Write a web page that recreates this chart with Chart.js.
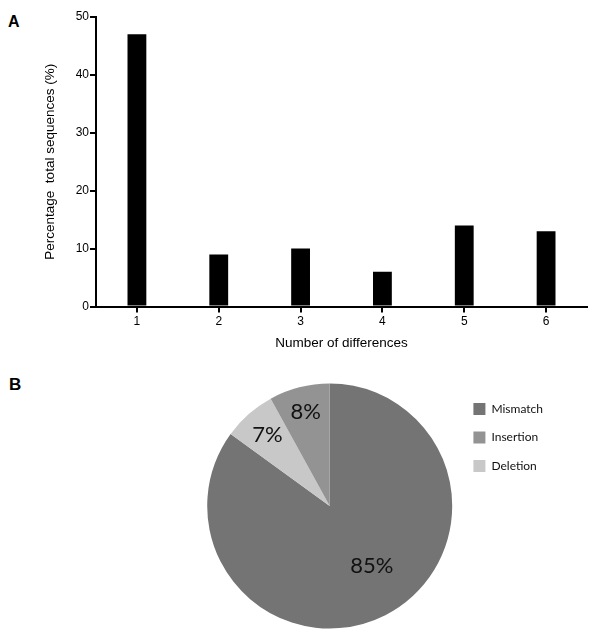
<!DOCTYPE html>
<html>
<head>
<meta charset="utf-8">
<script src="https://cdn.jsdelivr.net/npm/chart.js@4/dist/chart.umd.min.js"></script>
<style>
  html, body { margin: 0; padding: 0; background: #fff; }
  body { width: 600px; height: 641px; position: relative; overflow: hidden; }
  #barWrap { position: absolute; left: 0; top: 0; width: 600px; height: 370px; }
  #pieWrap { position: absolute; left: 0; top: 370px; width: 600px; height: 271px; }
  .panel { position: absolute; font-family: "Liberation Sans", Arial, sans-serif; font-weight: bold; line-height: 1; color: #000; }
</style>
</head>
<body>
<div class="panel" style="left:8px; top:14px; font-size:16px;">A</div>
<div class="panel" style="left:9px; top:376px; font-size:17px;">B</div>
<div id="barWrap"><canvas id="bar" width="600" height="370"></canvas></div>
<div id="pieWrap"><canvas id="pie" width="600" height="271"></canvas></div>
<script>
// ---- Data (panel A) ----
const diffCategories = ['1', '2', '3', '4', '5', '6'];
const diffPercentages = [47, 9, 10, 6, 14, 13];
const yTicks = [0, 10, 20, 30, 40, 50];
const xAxisTitle = 'Number of differences';
const yAxisTitle = 'Percentage  total sequences (%)';

// ---- Data (panel B) ----
const typeLabels = ['Mismatch', 'Deletion', 'Insertion'];
const typePercentages = [85, 7, 8];
const legendOrder = ['Mismatch', 'Insertion', 'Deletion'];
const typeColors = ['#747474', '#c8c8c8', '#939393'];

const sansFont = '"Liberation Sans", Arial, sans-serif';

new Chart(document.getElementById('bar'), {
  type: 'bar',
  data: {
    labels: diffCategories,
    datasets: [{
      data: diffPercentages,
      backgroundColor: '#000',
      borderWidth: 0,
      categoryPercentage: 1,
      barPercentage: 0.23
    }]
  },
  options: {
    responsive: false,
    animation: false,
    devicePixelRatio: 1,
    layout: { padding: { top: 17, right: 13, bottom: 13.5, left: 0 } },
    plugins: { legend: { display: false }, tooltip: { enabled: false } },
    scales: {
      x: {
        offset: true,
        grid: { display: true, drawOnChartArea: false, drawTicks: true, tickLength: 6, offset: false, color: '#000', lineWidth: 2 },
        border: { display: true, color: '#000', width: 2 },
        ticks: { color: '#000', font: { family: sansFont, size: 12 }, padding: 2 },
        title: { display: true, text: xAxisTitle, color: '#000', font: { family: sansFont, size: 13.5 }, padding: { top: 0, bottom: 5 } },
        afterFit: (s) => { s.height = 50; }
      },
      y: {
        min: 0, max: 50,
        afterBuildTicks: (s) => { s.ticks = yTicks.map(v => ({ value: v })); },
        grid: { display: true, drawOnChartArea: false, drawTicks: true, tickLength: 6, color: '#000', lineWidth: 2 },
        border: { display: true, color: '#000', width: 2 },
        ticks: { color: '#000', font: { family: sansFont, size: 12 }, padding: 1 },
        title: { display: true, text: yAxisTitle, color: '#000', font: { family: sansFont, size: 13.5 }, padding: { top: 42, bottom: 0 } },
        afterFit: (s) => { s.width = 96; }
      }
    }
  }
});

const pieLabelPlugin = {
  id: 'pieLabels',
  afterDatasetsDraw(chart, args, opts) {
    const ctx = chart.ctx;
    const meta = chart.getDatasetMeta(0);
    const values = chart.data.datasets[0].data;
    ctx.save();
    ctx.fillStyle = opts.color;
    ctx.font = opts.font;
    ctx.textAlign = 'center';
    ctx.textBaseline = 'middle';
    meta.data.forEach((arc, i) => {
      const p = arc.getProps(['x', 'y', 'startAngle', 'endAngle', 'outerRadius'], true);
      const mid = (p.startAngle + p.endAngle) / 2 + opts.angleShift[i] * Math.PI / 180;
      const r = p.outerRadius * opts.radiusFraction[i];
      ctx.fillText(values[i] + '%', p.x + Math.cos(mid) * r, p.y + Math.sin(mid) * r);
    });
    ctx.restore();
  }
};

new Chart(document.getElementById('pie'), {
  type: 'pie',
  data: {
    labels: typeLabels,
    datasets: [{
      data: typePercentages,
      backgroundColor: typeColors,
      borderWidth: 0,
      radius: 122.5,
      clip: false
    }]
  },
  options: {
    responsive: false,
    animation: false,
    devicePixelRatio: 1,
    rotation: 0,
    layout: { padding: { top: 16.5, right: 47, bottom: 15.5, left: 202.5 } },
    plugins: {
      tooltip: { enabled: false },
      legend: {
        display: true,
        position: 'right',
        align: 'start',
        labels: {
          boxWidth: 12,
          boxHeight: 12,
          padding: 16.5,
          color: '#111',
          font: { family: 'Lato, "Open Sans", sans-serif', size: 12 },
          sort: (a, b) => legendOrder.indexOf(a.text) - legendOrder.indexOf(b.text)
        }
      },
      pieLabels: {
        color: '#111',
        font: '22px Lato, "Open Sans", sans-serif',
        radiusFraction: [0.6, 0.77, 0.79],
        angleShift: [-8, 0, 0]
      }
    }
  },
  plugins: [pieLabelPlugin]
});
</script>
</body>
</html>
